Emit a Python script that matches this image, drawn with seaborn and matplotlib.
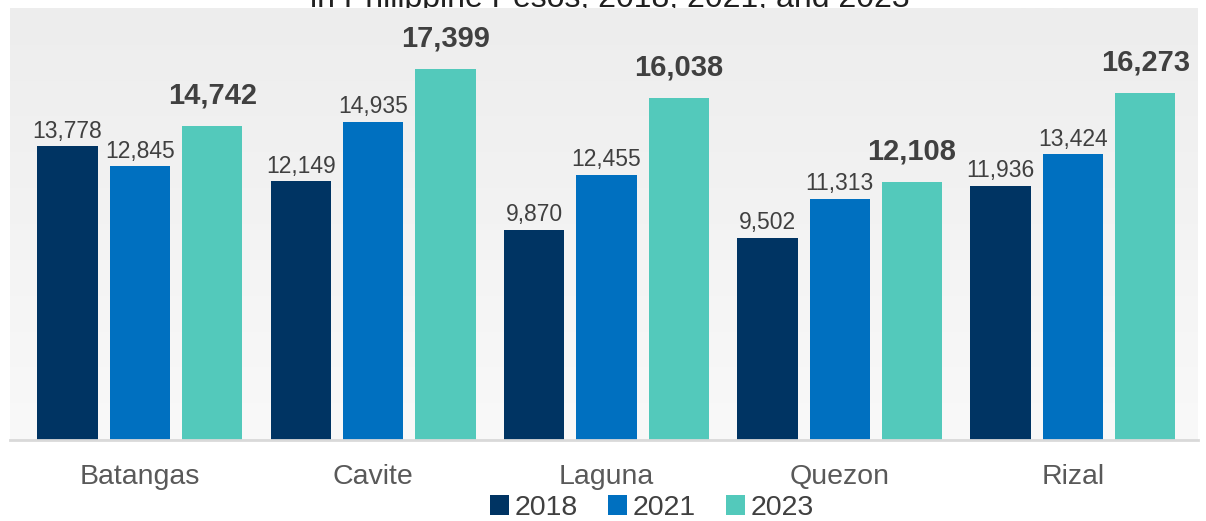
import numpy as np
import pandas as pd
import matplotlib
matplotlib.use("Agg")
import matplotlib.pyplot as plt
import seaborn as sns
from matplotlib.colors import LinearSegmentedColormap

provinces = ["Batangas", "Cavite", "Laguna", "Quezon", "Rizal"]
years = ["2018", "2021", "2023"]
values_2018 = [13778, 12149, 9870, 9502, 11936]
values_2021 = [12845, 14935, 12455, 11313, 13424]
values_2023 = [14742, 17399, 16038, 12108, 16273]
title_text = "in Philippine Pesos, 2018, 2021, and 2023"

colors = ["#003463", "#0070C0", "#53C9BB"]

df = pd.DataFrame({
    "province": provinces * 3,
    "year": [y for y in years for _ in provinces],
    "value": values_2018 + values_2021 + values_2023,
})

sns.set_theme(style="white")
plt.rcParams["font.family"] = ["Liberation Sans", "DejaVu Sans"]

fig = plt.figure(figsize=(12.06, 5.21), dpi=100)
ax = fig.add_axes([10 / 1206, 81 / 521, 1188 / 1206, 432 / 521])

# background gradient
cmap = LinearSegmentedColormap.from_list("bg", ["#f9f9f9", "#ededed"])
grad = np.linspace(0, 1, 256).reshape(-1, 1)
ax.imshow(grad, aspect="auto", cmap=cmap, extent=[0, 1, 0, 1], origin="lower",
          transform=ax.transAxes, zorder=0)

sns.barplot(data=df, x="province", y="value", hue="year", hue_order=years,
            palette=colors, width=0.93, gap=0.165, ax=ax, zorder=2,
            saturation=1, legend=True, linewidth=0, edgecolor="none")

for i, cont in enumerate(ax.containers):
    if i == 2:
        ax.bar_label(cont, labels=[f"{v:,.0f}" for v in values_2023], padding=12,
                     fontsize=21, fontweight="bold", color="#404040")
    else:
        vals = values_2018 if i == 0 else values_2021
        ax.bar_label(cont, labels=[f"{v:,.0f}" for v in vals], padding=2.5,
                     fontsize=16.5, color="#404040")

ax.set_xlim(-0.557, 4.536)
ax.set_ylim(0, 20276)
ax.set_xlabel("")
ax.set_ylabel("")
ax.set_yticks([])
for s in ["top", "left", "right"]:
    ax.spines[s].set_visible(False)
ax.spines["bottom"].set_color("#d9d9d9")
ax.spines["bottom"].set_linewidth(2)
ax.tick_params(axis="x", length=0, pad=17, labelsize=20.5, labelcolor="#595959")

leg = ax.legend(loc="center", bbox_to_anchor=(652 / 1206, 1 - 508 / 521),
                bbox_transform=fig.transFigure, ncol=3, frameon=False,
                fontsize=20.5, handlelength=0.65, handleheight=0.72,
                handletextpad=0.2, columnspacing=1.07, borderaxespad=0,
                borderpad=0)
for t in leg.get_texts():
    t.set_color("#404040")

fig.text(610 / 1206, 1 - 7 / 521, title_text, ha="center", va="baseline",
         fontsize=23, color="#202020", zorder=-1)

fig.savefig("out.png", dpi=100)
